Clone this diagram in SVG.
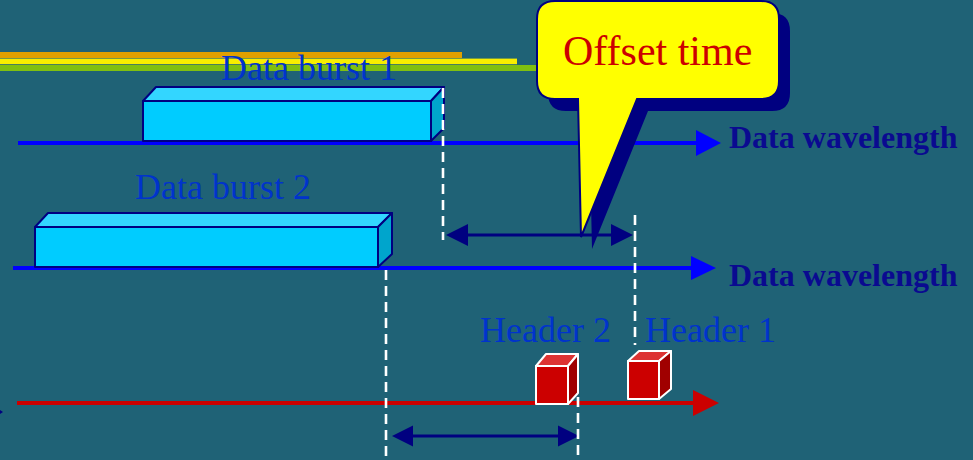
<svg xmlns="http://www.w3.org/2000/svg" width="973" height="460" viewBox="0 0 973 460">
  <style>
    .lbl { font-family: "Liberation Serif", "Times New Roman", serif; font-size: 36px; fill: #0033cc; }
    .wl { font-family: "Liberation Serif", "Times New Roman", serif; font-size: 32px; font-weight: bold; fill: #0a0a90; }
    .dash { stroke: #ffffff; stroke-width: 2.6; stroke-dasharray: 10 6; fill: none; }
    .front { fill: #00ccff; stroke: #000080; stroke-width: 2; stroke-linejoin: round; }
    .top { fill: #33d6ff; stroke: #000080; stroke-width: 2; stroke-linejoin: round; }
    .side { fill: #00a5cc; stroke: #000080; stroke-width: 2; stroke-linejoin: round; }
    .hfront { fill: #cc0000; stroke: #ffffff; stroke-width: 2; stroke-linejoin: round; }
    .htop { fill: #dd3333; stroke: #ffffff; stroke-width: 2; stroke-linejoin: round; }
    .hside { fill: #a00000; stroke: #ffffff; stroke-width: 2; stroke-linejoin: round; }
    .navy { fill: #000080; }
  </style>
  <rect width="973" height="460" fill="#1f6276"/>

  <!-- top stripes -->
  <g id="stripes">
    <rect x="0" y="52" width="462" height="6" fill="#e0a000"/>
    <rect x="0" y="58.6" width="517" height="5.6" fill="#f8ee00"/>
    <rect x="0" y="65" width="540" height="6" fill="#80c010"/>
  </g>

  <!-- connectors -->
  <g id="connectors">
    <line x1="18" y1="143" x2="699" y2="143" stroke="#0000ff" stroke-width="4"/>
    <polygon points="696,130 721,143 696,156" fill="#0000ff"/>
    <line x1="13" y1="268" x2="694" y2="268" stroke="#0000ff" stroke-width="4"/>
    <polygon points="691,256 716,268 691,280" fill="#0000ff"/>
    <line x1="17" y1="403" x2="696" y2="403" stroke="#cc0000" stroke-width="4"/>
    <polygon points="693,390 719,403 693,416" fill="#cc0000"/>

    <line x1="466" y1="235" x2="613" y2="235" stroke="#000080" stroke-width="3"/>
    <polygon class="navy" points="446,235 468,224 468,246"/>
    <polygon class="navy" points="633,235 611,224 611,246"/>

    <line x1="411" y1="436" x2="560" y2="436" stroke="#000080" stroke-width="3"/>
    <polygon class="navy" points="392,436 413,425.5 413,446.5"/>
    <polygon class="navy" points="579,436 558,425.5 558,446.5"/>

    <polygon class="navy" points="0,410 3,412 0,414"/>
  </g>

  <!-- data bursts -->
  <g id="burst1">
    <rect class="front" x="143" y="101" width="288" height="40"/>
    <polygon class="top" points="143,101 156,87 444,87 431,101"/>
    <polygon class="side" points="431,101 444,87 444,128 431,141"/>
    <text class="lbl" x="221" y="80">Data burst 1</text>
  </g>
  <g id="burst2">
    <rect class="front" x="35" y="227" width="343" height="40"/>
    <polygon class="top" points="35,227 48,213 392,213 378,227"/>
    <polygon class="side" points="378,227 392,213 392,254 378,267"/>
    <text class="lbl" x="135" y="199">Data burst 2</text>
  </g>

  <!-- dashed guides -->
  <g id="guides">
    <line class="dash" x1="443" y1="88" x2="443" y2="240"/>
    <line class="dash" x1="635" y1="215" x2="635" y2="345"/>
    <line class="dash" x1="386" y1="270" x2="386" y2="460"/>
    <line class="dash" x1="578" y1="397" x2="578" y2="460"/>
  </g>

  <!-- headers -->
  <g id="header2">
    <rect class="hfront" x="536" y="366" width="32" height="38"/>
    <polygon class="htop" points="536,366 546,354 578,354 568,366"/>
    <polygon class="hside" points="568,366 578,354 578,393 568,404"/>
    <text class="lbl" x="480" y="342">Header 2</text>
  </g>
  <g id="header1">
    <rect class="hfront" x="628" y="361" width="31" height="38"/>
    <polygon class="htop" points="628,361 639,351 671,351 659,361"/>
    <polygon class="hside" points="659,361 671,351 671,389 659,399"/>
    <text class="lbl" x="645" y="342">Header 1</text>
  </g>

  <g id="wavelength-labels">
    <text class="wl" x="729" y="148">Data wavelength</text>
    <text class="wl" x="729" y="286">Data wavelength</text>
  </g>

  <!-- callout -->
  <g id="callout">
    <path transform="translate(11,12)" fill="#000080" d="M 555 1 H 761 Q 779 1 779 19 V 81 Q 779 99 761 99 H 637 L 581 237 L 578 99 H 555 Q 537 99 537 81 V 19 Q 537 1 555 1 Z"/>
    <path fill="#ffff00" stroke="#000080" stroke-width="2" d="M 555 1 H 761 Q 779 1 779 19 V 81 Q 779 99 761 99 H 637 L 581 237 L 578 99 H 555 Q 537 99 537 81 V 19 Q 537 1 555 1 Z"/>
    <text x="563" y="65" font-family="Liberation Serif, 'Times New Roman', serif" font-size="42" fill="#cc0000">Offset time</text>
  </g>
</svg>
